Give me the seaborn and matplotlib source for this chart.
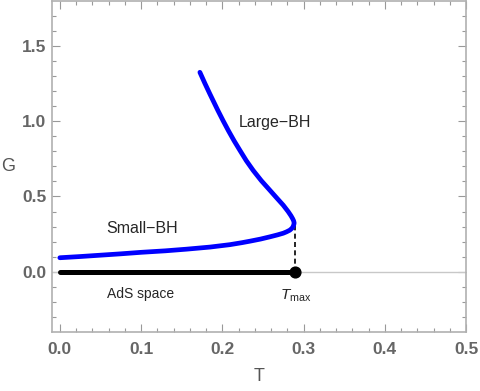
import numpy as np
import pandas as pd
import matplotlib
matplotlib.use("Agg")
import matplotlib.pyplot as plt
import seaborn as sns

# small black hole branch, T = 0 up to the turning point
small_T = [0.0, 0.025, 0.05, 0.075, 0.1, 0.13, 0.156, 0.185, 0.2094, 0.224, 0.234, 0.247,
           0.2586, 0.268, 0.275, 0.279, 0.283, 0.2858, 0.2874, 0.2882]
small_G = [0.093, 0.101, 0.110, 0.119, 0.129, 0.139, 0.150, 0.164, 0.180, 0.193, 0.203, 0.217,
           0.232, 0.245, 0.256, 0.265, 0.276, 0.289, 0.303, 0.318]
# large black hole branch, from the turning point upward
large_T = [0.2884, 0.2878, 0.2866, 0.2845, 0.281, 0.275, 0.267, 0.2586, 0.248, 0.238, 0.2295,
           0.2217, 0.2145, 0.2075, 0.201, 0.1945, 0.1847, 0.1785, 0.1724]
large_G = [0.325, 0.338, 0.352, 0.372, 0.400, 0.442, 0.490, 0.541, 0.605, 0.673, 0.738,
           0.806, 0.870, 0.937, 1.003, 1.072, 1.181, 1.252, 1.325]

T_max = 0.290
G_tip = 0.325

curve = pd.DataFrame({"T": small_T + large_T, "G": small_G + large_G})

sns.set_style("ticks")
plt.rcParams["font.family"] = ["Liberation Sans", "DejaVu Sans"]
plt.rcParams["mathtext.fontset"] = "custom"
plt.rcParams["mathtext.it"] = "Liberation Sans:italic"
plt.rcParams["mathtext.rm"] = "Liberation Sans"

fig = plt.figure(figsize=(4.8, 3.91), dpi=100)
ax = fig.add_axes([0.108, 0.151, 0.863, 0.847])

ax.axhline(0, color="#c8c8c8", lw=1, zorder=1)
sns.lineplot(data=curve, x="T", y="G", sort=False, estimator=None,
             color="#0000ff", lw=3.4, ax=ax, zorder=3)
sns.lineplot(x=[0.0, T_max], y=[0.0, 0.0], color="black", lw=3.6, ax=ax, zorder=3)
ax.plot([T_max, T_max], [0, G_tip], color="black", lw=1.2, ls=(0, (3, 2)), zorder=2)
ax.scatter([T_max], [0], s=60, color="black", zorder=4)

ax.text(0.101, 0.29, "Small\u2212BH", fontsize=11.5, ha="center", va="center")
ax.text(0.265, 0.99, "Large\u2212BH", fontsize=11.5, ha="center", va="center")
ax.text(0.100, -0.145, "AdS space", fontsize=10, ha="center", va="center")
ax.text(T_max, -0.16, r"$T_{\rm max}$", fontsize=11, ha="center", va="center")

ax.set_xlim(-0.0098, 0.5)
ax.set_ylim(-0.40, 1.80)
ax.set_xticks([0.0, 0.1, 0.2, 0.3, 0.4, 0.5])
ax.set_yticks([0.0, 0.5, 1.0, 1.5])
ax.set_xticks(np.arange(0, 0.5, 0.02), minor=True)
ax.set_yticks(np.arange(-0.3, 1.8, 0.1), minor=True)
ax.xaxis.set_major_formatter(matplotlib.ticker.FormatStrFormatter("%.1f"))
ax.yaxis.set_major_formatter(matplotlib.ticker.FormatStrFormatter("%.1f"))

ax.tick_params(which="both", direction="in", top=True, right=True, color="#999999", width=0.8)
ax.tick_params(which="major", length=5.5, labelsize=12.5, labelcolor="#666666")
ax.tick_params(which="minor", length=3)
ax.tick_params(axis="x", which="major", pad=7)
ax.tick_params(axis="y", which="major", pad=4)
for lab in ax.get_xticklabels() + ax.get_yticklabels():
    lab.set_fontweight("bold")
for s in ax.spines.values():
    s.set_visible(True)
    s.set_color("#b0b0b0")
    s.set_linewidth(1.2)

ax.set_xlabel("T", fontsize=13, color="#555555", labelpad=8)
ax.set_ylabel("G", fontsize=13, color="#555555", rotation=0, ha="center", va="center")
ax.yaxis.set_label_coords(-0.106, 0.5)

fig.savefig("out.png", dpi=100)
